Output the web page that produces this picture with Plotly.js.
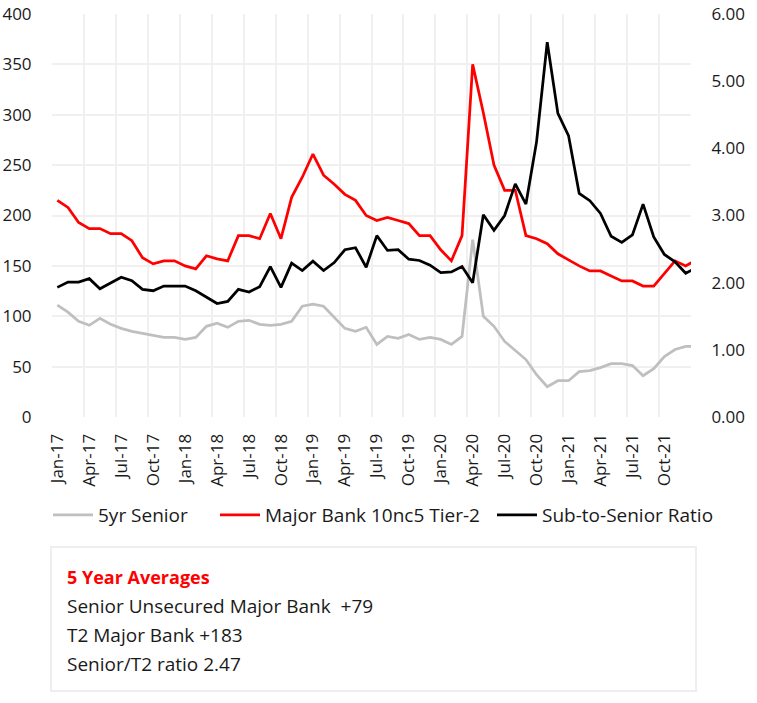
<!DOCTYPE html>
<html>
<head>
<meta charset="utf-8">
<script src="https://cdn.plot.ly/plotly-3.0.1.min.js"></script>
<style>
  html, body { margin: 0; padding: 0; background: #ffffff; }
  #chart { width: 757px; height: 703px; }
</style>
</head>
<body>
<div id="chart"></div>
<script>
// Monthly categories (the last one falls just beyond the visible axis range)
const months = [
  "Jan-17","Feb-17","Mar-17","Apr-17","May-17","Jun-17","Jul-17","Aug-17","Sep-17","Oct-17","Nov-17","Dec-17",
  "Jan-18","Feb-18","Mar-18","Apr-18","May-18","Jun-18","Jul-18","Aug-18","Sep-18","Oct-18","Nov-18","Dec-18",
  "Jan-19","Feb-19","Mar-19","Apr-19","May-19","Jun-19","Jul-19","Aug-19","Sep-19","Oct-19","Nov-19","Dec-19",
  "Jan-20","Feb-20","Mar-20","Apr-20","May-20","Jun-20","Jul-20","Aug-20","Sep-20","Oct-20","Nov-20","Dec-20",
  "Jan-21","Feb-21","Mar-21","Apr-21","May-21","Jun-21","Jul-21","Aug-21","Sep-21","Oct-21","Nov-21","Dec-21",
  "Jan-22"
];

// 5yr Senior spread (bp, left axis)
const seniorSpread = [
  111,104,95,91,98,92,88,85,83,81,79,79,
  77,79,90,93,89,95,96,92,91,92,95,110,
  112,110,99,88,85,89,72,80,78,82,77,79,
  77,72,80,176,100,90,75,66,57,42,30,36,
  36,45,46,49,53,53,51,41,48,60,67,70,
  70
];

// Major Bank 10nc5 Tier-2 spread (bp, left axis)
const tier2Spread = [
  215,208,193,187,187,182,182,175,158,152,155,155,
  150,147,160,157,155,180,180,177,202,177,218,238,
  261,240,231,221,215,200,195,198,195,192,180,180,
  166,155,180,350,302,250,225,225,180,177,172,162,
  156,150,145,145,140,135,135,130,130,142,155,150,
  156
];

// Sub-to-Senior ratio (right axis)
const subSeniorRatio = [
  1.93,2.01,2.01,2.06,1.91,1.99,2.08,2.03,1.90,1.88,1.95,1.95,
  1.95,1.88,1.79,1.69,1.72,1.90,1.86,1.94,2.24,1.93,2.29,2.18,
  2.32,2.18,2.30,2.49,2.52,2.23,2.70,2.48,2.49,2.35,2.33,2.26,
  2.15,2.16,2.24,2.00,3.01,2.78,3.00,3.47,3.17,4.10,5.58,4.52,
  4.19,3.33,3.22,3.03,2.69,2.60,2.71,3.17,2.68,2.42,2.31,2.14,
  2.22
];

const seriesNames = ["5yr Senior", "Major Bank 10nc5 Tier-2", "Sub-to-Senior Ratio"];
const boxTitle = "5 Year Averages";
const boxLines = [
  "Senior Unsecured Major Bank&nbsp;&nbsp;+79",
  "T2 Major Bank +183",
  "Senior/T2 ratio 2.47"
];

// ---- build ----
const xIdx = months.map((m, i) => i);
const nShown = 60;
const tickIdx = xIdx.filter(i => i < nShown && i % 3 === 0);
const tickTxt = tickIdx.map(i => months[i]);
const gridIdx = [];
for (let g = -0.5; g <= nShown - 0.5 + 1e-9; g += 3) gridIdx.push(g);

const FONT = "Open Sans, Noto Sans, sans-serif";
const TXT = "#1a1a1a";

const traces = [
  { x: xIdx, y: seniorSpread, name: seriesNames[0], type: "scatter", mode: "lines",
    line: { color: "#bfbfbf", width: 2.75 }, yaxis: "y", legend: "legend",
    customdata: months, hovertemplate: "%{customdata}: %{y}<extra></extra>" },
  { x: xIdx, y: tier2Spread, name: seriesNames[1], type: "scatter", mode: "lines",
    line: { color: "#ff0000", width: 2.75 }, yaxis: "y", legend: "legend2",
    customdata: months, hovertemplate: "%{customdata}: %{y}<extra></extra>" },
  { x: xIdx, y: subSeniorRatio, name: seriesNames[2], type: "scatter", mode: "lines",
    line: { color: "#000000", width: 2.75 }, yaxis: "y2", legend: "legend3",
    customdata: months, hovertemplate: "%{customdata}: %{y:.2f}<extra></extra>" }
];

// pixel helpers for paper placement (plot area: x 52..691, y 14..417)
const L = 52, R = 66, T = 14, B = 286, W = 757, H = 703;
const pw = W - L - R, ph = H - T - B;
const px = v => (v - L) / pw;
const py = v => (H - B - v) / ph;

const legendCommon = {
  orientation: "h", xanchor: "left", yanchor: "middle",
  font: { family: FONT, size: 19, color: TXT }, bgcolor: "rgba(0,0,0,0)",
  borderwidth: 0, y: py(515), itemwidth: 40
};

const annotations = [
  { text: "<b>" + boxTitle + "</b>", xref: "paper", yref: "paper", x: px(65), y: py(577),
    xanchor: "left", yanchor: "middle", showarrow: false,
    font: { family: FONT, size: 18, color: "#ff0000" } }
].concat(boxLines.map((t, k) => ({
  text: t, xref: "paper", yref: "paper", x: px(65), y: py(606 + k * 29),
  xanchor: "left", yanchor: "middle", showarrow: false,
  font: { family: FONT, size: 19, color: TXT }
})));

const layout = {
  width: W, height: H,
  margin: { l: L, r: R, t: T, b: B, pad: 0 },
  paper_bgcolor: "#ffffff", plot_bgcolor: "#ffffff",
  font: { family: FONT, size: 16, color: TXT },
  showlegend: true,
  xaxis: {
    type: "linear", range: [-0.5, nShown - 0.5], fixedrange: true,
    tickmode: "array", tickvals: tickIdx, ticktext: tickTxt, tickangle: -90,
    showgrid: false, zeroline: false, showline: false,
    ticks: "outside", ticklen: 9, tickcolor: "rgba(0,0,0,0)",
    tickfont: { family: FONT, size: 17, color: TXT },
    minor: { tickmode: "array", tickvals: gridIdx, showgrid: true, gridcolor: "#f0f0f0", gridwidth: 2, ticks: "" }
  },
  yaxis: {
    range: [0, 400], dtick: 50, tick0: 0, fixedrange: true,
    showgrid: true, gridcolor: "#f0f0f0", gridwidth: 2, zeroline: false, showline: false,
    ticks: "outside", ticklen: 16, tickcolor: "rgba(0,0,0,0)",
    tickfont: { family: FONT, size: 17, color: TXT }
  },
  yaxis2: {
    overlaying: "y", side: "right", range: [0, 6], dtick: 1, tick0: 0, tickformat: ".2f",
    showgrid: false, zeroline: false, showline: false, fixedrange: true,
    ticks: "outside", ticklen: 16, tickcolor: "rgba(0,0,0,0)",
    tickfont: { family: FONT, size: 17, color: TXT }
  },
  legend: Object.assign({}, legendCommon, { x: px(48) }),
  legend2: Object.assign({}, legendCommon, { x: px(215) }),
  legend3: Object.assign({}, legendCommon, { x: px(492) }),
  shapes: [
    { type: "rect", xref: "paper", yref: "paper", x0: px(51), x1: px(696), y0: py(547), y1: py(691),
      line: { color: "#eeeeee", width: 2 }, fillcolor: "rgba(0,0,0,0)", layer: "below" }
  ],
  annotations: annotations
};

Plotly.newPlot("chart", traces, layout, { staticPlot: true, displayModeBar: false });
</script>
</body>
</html>
